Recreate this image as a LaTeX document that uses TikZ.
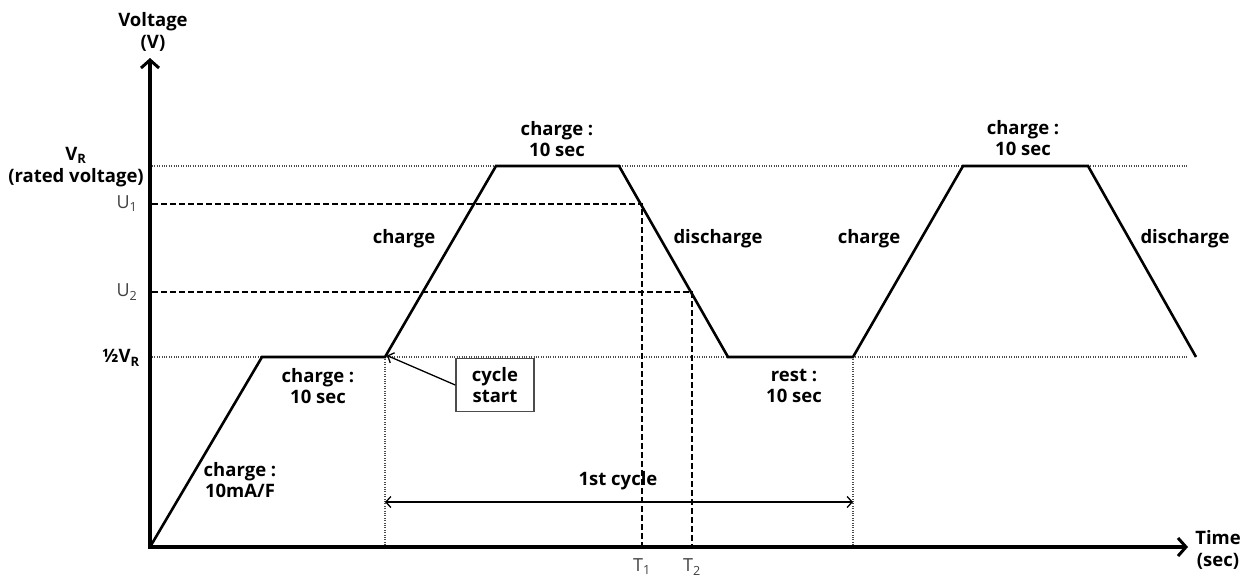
\documentclass[tikz,border=0pt]{standalone}
\usepackage{fontspec}
\setmainfont{Open Sans}
\usetikzlibrary{arrows.meta}
\begin{document}
\begin{tikzpicture}[x=1pt,y=-1pt,
  lbl/.style={font=\fontsize{18.5}{21.5}\selectfont\bfseries, align=center, inner sep=0pt},
  tick/.style={font=\fontsize{18}{21}\selectfont, text=black!75, inner sep=0pt},
  wave/.style={line width=2.6pt, line join=miter},
  axis/.style={line width=3.6pt, -{Straight Barb[length=8pt,width=18pt,line width=3pt]}},
  dots/.style={line width=1.3pt, black!70, dash pattern=on 1pt off 1.4pt},
  dashln/.style={line width=1.6pt, dash pattern=on 6pt off 3pt},
  thinln/.style={line width=1.3pt},
  boxst/.style={draw=black!70, line width=1.5pt, minimum width=78pt, minimum height=53pt, inner sep=0pt, align=center, font=\fontsize{18.5}{21.5}\selectfont\bfseries}
]
\useasboundingbox (0,0) rectangle (1241,576);
% coordinates
\coordinate (O) at (150,547);
\coordinate (Ytop) at (150,58);
\coordinate (Xend) at (1188,547);
\coordinate (P1) at (262,357);
\coordinate (P2) at (385,357);
\coordinate (P3) at (496,166);
\coordinate (P4) at (619,166);
\coordinate (P5) at (728,357);
\coordinate (P6) at (853,357);
\coordinate (P7) at (963,166);
\coordinate (P8) at (1088,166);
\coordinate (P9) at (1196,357);
\coordinate (T1) at (642,204);
\coordinate (T2) at (692,292);
\coordinate (VRl) at (152,166);
\coordinate (VRr) at (1188,166);
\coordinate (HVl) at (152,357);
\coordinate (HVr) at (1188,357);
\coordinate (U1l) at (152,204);
\coordinate (U2l) at (152,292);
\coordinate (T1b) at (642,547);
\coordinate (T2b) at (692,547);
\coordinate (S1b) at (385,547);
\coordinate (S2b) at (853,547);
\coordinate (C1) at (385,502);
\coordinate (C2) at (853,502);

% guide lines
\draw[dots] (VRl) -- (VRr);
\draw[dots] (HVl) -- (HVr);
\draw[dots] (P2) -- (S1b);
\draw[dots] (P6) -- (S2b);
\draw[dashln] (U1l) -- (T1) -- (T1b);
\draw[dashln] (U2l) -- (T2) -- (T2b);

% waveform
\draw[wave] (O) -- (P1) -- (P2) -- (P3) -- (P4) -- (P5) -- (P6) -- (P7) -- (P8) -- (P9);

% axes
\draw[axis] (O) -- (Ytop);
\draw[axis] ([xshift=-1.8pt]O) -- (Xend);

% cycle arrow
\draw[thinln, {Straight Barb[length=5pt,width=11pt]}-{Straight Barb[length=5pt,width=11pt]}] (C1) -- (C2);
\node[lbl] (cyc) at (618,481) {1st cycle};

% cycle start box
\node[boxst] (cs) at (495,385) {cycle\\start};
\draw[thinln, -{Straight Barb[length=5pt,width=11pt]}] (cs.west) -- ([shift={(2pt,1.5pt)}]P2);

% axis labels
\node[lbl] (ylab) at (153,32) {Voltage\\(V)};
\node[lbl] (xlab) at (1218,550) {Time\\(sec)};
\node[lbl] (vr) at (76,167) {V\textsubscript{R}\\(rated voltage)};
\node[tick] (u1) at (127,204) {U\textsubscript{1}};
\node[tick] (u2) at (127,292) {U\textsubscript{2}};
\node[lbl] (hv) at (121,358) {½V\textsubscript{R}};
\node[tick] (t1) at (642,567) {T\textsubscript{1}};
\node[tick] (t2) at (692,567) {T\textsubscript{2}};

% segment labels
\node[lbl] (l1) at (240,480) {charge :\\10mA/F};
\node[lbl] (l2) at (318,386) {charge :\\10 sec};
\node[lbl] (l3) at (404,239) {charge};
\node[lbl] (l4) at (557,139) {charge :\\10 sec};
\node[lbl] (l5) at (718,239) {discharge};
\node[lbl] (l6) at (794,386) {rest :\\10 sec};
\node[lbl] (l7) at (869,239) {charge};
\node[lbl] (l8) at (1023,138) {charge :\\10 sec};
\node[lbl] (l9) at (1185,239) {discharge};
\end{tikzpicture}
\end{document}
